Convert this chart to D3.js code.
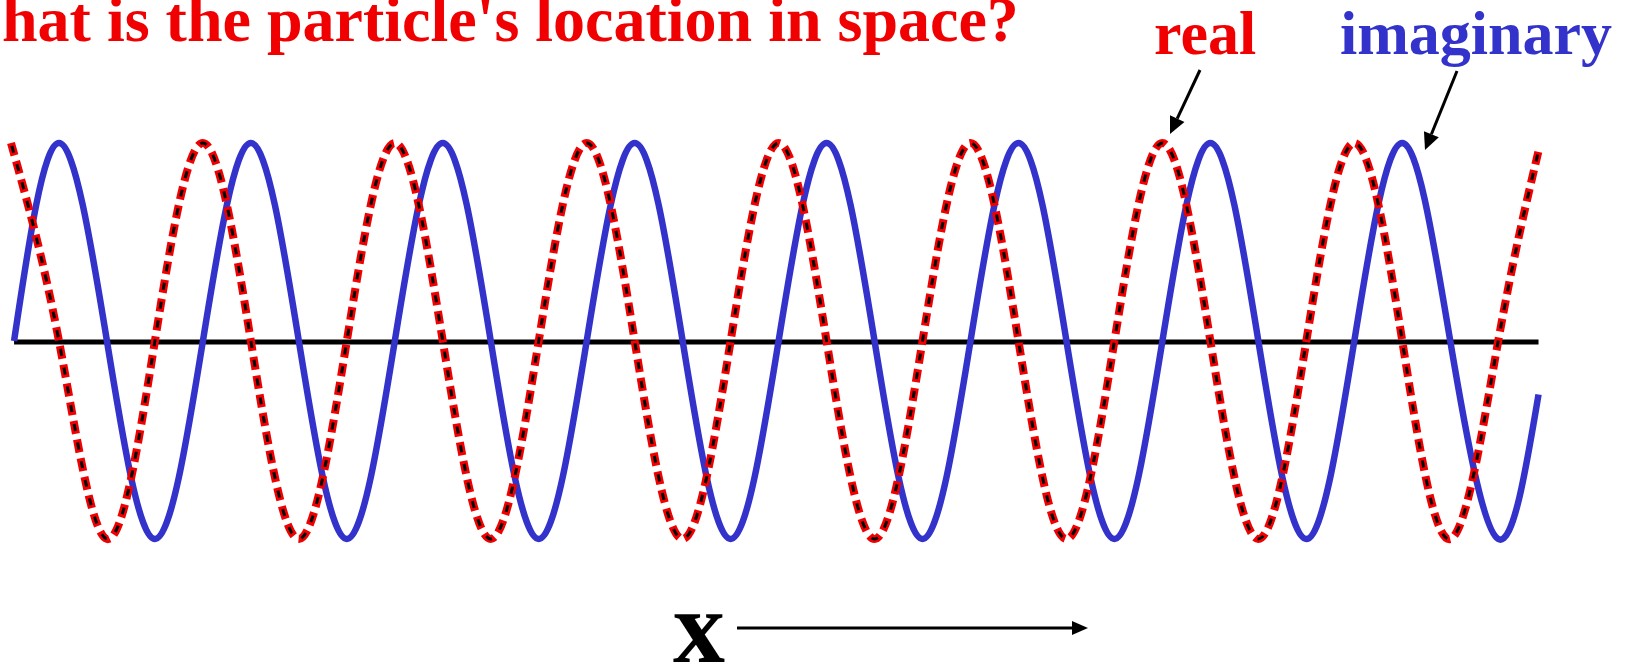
<!DOCTYPE html>
<html>
<head>
<meta charset="utf-8">
<script src="https://cdn.jsdelivr.net/npm/d3@7"></script>
<style>
  html, body { margin: 0; padding: 0; background: #fff; }
  svg { display: block; }
  text { font-family: "Liberation Serif", "Times New Roman", serif; font-weight: bold; }
</style>
</head>
<body>
<svg id="chart" width="1633" height="668"></svg>
<script>
// Wave positions in wavelengths (quarter-wave landmarks: crests, zero crossings, troughs)
const realX = [0, 0.25, 0.5, 0.75, 1, 1.25, 1.5, 1.75, 2, 2.25, 2.5, 2.75, 3, 3.25, 3.5, 3.75,
               4, 4.25, 4.5, 4.75, 5, 5.25, 5.5, 5.75, 6, 6.25, 6.5, 6.75, 7, 7.25, 7.5, 7.75, 7.96];
const realY = [1, 0, -1, 0, 1, 0, -1, 0, 1, 0, -1, 0, 1, 0, -1, 0,
               1, 0, -1, 0, 1, 0, -1, 0, 1, 0, -1, 0, 1, 0, -1, 0, 0.96];
const imagX = [0.016, 0.25, 0.5, 0.75, 1, 1.25, 1.5, 1.75, 2, 2.25, 2.5, 2.75, 3, 3.25, 3.5, 3.75,
               4, 4.25, 4.5, 4.75, 5, 5.25, 5.5, 5.75, 6, 6.25, 6.5, 6.75, 7, 7.25, 7.5, 7.75, 7.96];
const imagY = [0, 1, 0, -1, 0, 1, 0, -1, 0, 1, 0, -1, 0, 1, 0, -1,
               0, 1, 0, -1, 0, 1, 0, -1, 0, 1, 0, -1, 0, 1, 0, -1, -0.27];
const axisSpan = [0.016, 7.96];

const titleText = "hat is the particle's location in space?";
const realLabel = "real";
const imagLabel = "imaginary";
const axisLabel = "x";

const RED = "#f00000";
const BLUE = "#3333cc";

const svg = d3.select("#chart");

const x = d3.scaleLinear().domain([0, 8]).range([11, 11 + 8 * 191.9]);
const y = d3.scaleLinear().domain([-1, 1]).range([539, 143]);

const line = d3.line()
  .x(d => x(d[0]))
  .y(d => y(d[1]))
  .curve(d3.curveNatural);

const realPts = realX.map((v, i) => [v, realY[i]]);
const imagPts = imagX.map((v, i) => [v, imagY[i]]);

// zero line
svg.append("line")
  .attr("x1", x(axisSpan[0])).attr("x2", x(axisSpan[1]))
  .attr("y1", y(0) + 1).attr("y2", y(0) + 1)
  .attr("stroke", "#000").attr("stroke-width", 5);

// imaginary part: solid blue
svg.append("path")
  .datum(imagPts)
  .attr("d", line)
  .attr("fill", "none")
  .attr("stroke", BLUE)
  .attr("stroke-width", 6.5)
  .attr("stroke-linejoin", "round");

// real part: red dashes with black cores
svg.append("path")
  .datum(realPts)
  .attr("d", line)
  .attr("fill", "none")
  .attr("stroke", RED)
  .attr("stroke-width", 8)
  .attr("stroke-dasharray", "13 6");

svg.append("path")
  .datum(realPts)
  .attr("d", line)
  .attr("fill", "none")
  .attr("stroke", "#000")
  .attr("stroke-width", 3)
  .attr("stroke-dasharray", "7 12")
  .attr("stroke-dashoffset", -3);

// arrow helper
function arrow(x1, y1, x2, y2, w, headLen, headHalf) {
  const a = Math.atan2(y2 - y1, x2 - x1);
  const bx = x2 - headLen * Math.cos(a), by = y2 - headLen * Math.sin(a);
  svg.append("line")
    .attr("x1", x1).attr("y1", y1).attr("x2", bx).attr("y2", by)
    .attr("stroke", "#000").attr("stroke-width", w);
  const px = -Math.sin(a) * headHalf, py = Math.cos(a) * headHalf;
  svg.append("path")
    .attr("d", `M${x2},${y2}L${bx + px},${by + py}L${bx - px},${by - py}Z`)
    .attr("fill", "#000");
}

// title
svg.append("text")
  .attr("x", 2).attr("y", 41)
  .attr("font-size", 64)
  .attr("fill", RED)
  .text(titleText);

// series labels with pointers
svg.append("text")
  .attr("x", 1154).attr("y", 54)
  .attr("font-size", 62)
  .attr("fill", RED)
  .text(realLabel);
arrow(1200, 70, 1170, 134, 3, 17, 8);

svg.append("text")
  .attr("x", 1340).attr("y", 54)
  .attr("font-size", 62)
  .attr("fill", BLUE)
  .text(imagLabel);
arrow(1457, 71, 1425, 150, 3, 17, 8);

// x direction
svg.append("text")
  .attr("x", 673).attr("y", 662)
  .attr("font-size", 104)
  .attr("fill", "#000")
  .text(axisLabel);
arrow(737, 628, 1088, 628, 3, 16, 7);
</script>
</body>
</html>
